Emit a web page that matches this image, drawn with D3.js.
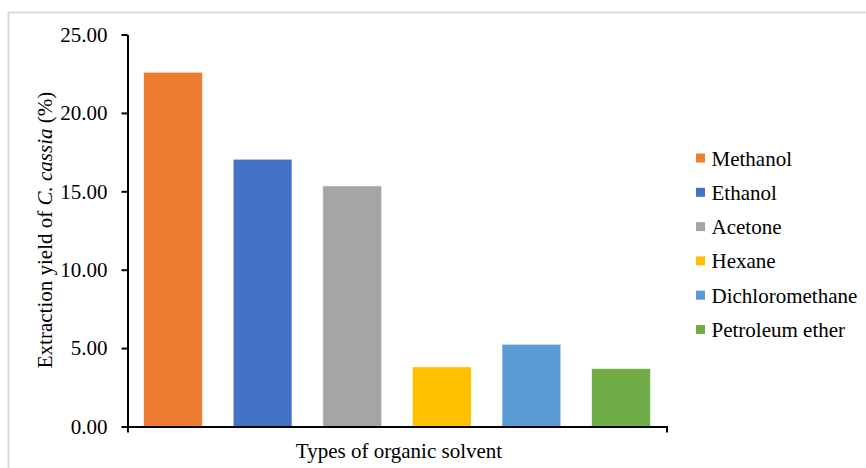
<!DOCTYPE html>
<html>
<head>
<meta charset="utf-8">
<script src="https://cdn.jsdelivr.net/npm/d3@7"></script>
<style>
  html, body { margin: 0; padding: 0; background: #fff; }
  svg { display: block; }
  svg text { font-family: 'Liberation Serif', 'Times New Roman', serif !important; }
</style>
</head>
<body>
<svg id="chart" width="866" height="468"></svg>
<script>
// Extraction yield by solvent
const solvents = ["Methanol", "Ethanol", "Acetone", "Hexane", "Dichloromethane", "Petroleum ether"];
const yields = [22.59, 17.04, 15.34, 3.80, 5.24, 3.69];
const colors = ["#ED7D31", "#4472C4", "#A5A5A5", "#FFC000", "#5B9BD5", "#70AD47"];
const yTicks = [0, 5, 10, 15, 20, 25];

const svg = d3.select("#chart");
const margin = { left: 127.5, right: 666.5, top: 34.5, bottom: 426.5 };
const fontSize = 21;
const serif = "'Liberation Serif', 'Times New Roman', serif";

// outer frame (top and left edges visible)
svg.append("path")
  .attr("d", "M866,12.5 H8.5 V468")
  .attr("fill", "none")
  .attr("stroke", "#d9d9d9")
  .attr("stroke-width", 2);

const x = d3.scaleBand()
  .domain(solvents)
  .range([margin.left, margin.right])
  .paddingInner(0.345)
  .paddingOuter(0.18);

const y = d3.scaleLinear()
  .domain([0, 25])
  .range([margin.bottom, margin.top]);

// bars
svg.append("g")
  .selectAll("rect")
  .data(solvents)
  .join("rect")
  .attr("x", d => x(d))
  .attr("width", x.bandwidth())
  .attr("y", (d, i) => y(yields[i]))
  .attr("height", (d, i) => y(0) - y(yields[i]))
  .attr("fill", (d, i) => colors[i])
  .attr("stroke", "#fff")
  .attr("stroke-opacity", 0.6)
  .attr("stroke-width", 0.75);

// y axis
const yAxis = svg.append("g")
  .attr("transform", `translate(${margin.left},0)`)
  .call(d3.axisLeft(y).tickValues(yTicks).tickFormat(d3.format(".2f")).tickSize(6).tickSizeOuter(0).tickPadding(14));
yAxis.attr("font-family", null).attr("font-size", null);
yAxis.select(".domain").attr("stroke", "#000").attr("stroke-width", 2);
yAxis.selectAll(".tick line").attr("stroke", "#000").attr("stroke-width", 2);
yAxis.selectAll(".tick text")
  .style("font-family", serif)
  .style("font-size", fontSize + "px")
  .attr("fill", "#000");

// x axis baseline with end ticks
const xAxis = svg.append("g")
  .attr("transform", `translate(0,${margin.bottom})`)
  .call(d3.axisBottom(x).tickValues([]).tickSizeOuter(6));
xAxis.select(".domain").attr("stroke", "#000").attr("stroke-width", 2);

// axis titles
svg.append("text")
  .attr("x", 399)
  .attr("y", 458)
  .attr("text-anchor", "middle")
  .style("font-family", serif)
  .style("font-size", fontSize + "px")
  .attr("fill", "#000")
  .text("Types of organic solvent");

const yTitle = svg.append("text")
  .attr("transform", "translate(52,230) rotate(-90)")
  .attr("text-anchor", "middle")
  .style("font-family", serif)
  .style("font-size", fontSize + "px")
  .attr("fill", "#000");
yTitle.append("tspan").text("Extraction yield of ");
yTitle.append("tspan").attr("font-style", "italic").text("C. cassia");
yTitle.append("tspan").text(" (%)");

// legend
const legend = svg.append("g").attr("transform", "translate(696,158)");
const rows = legend.selectAll("g")
  .data(solvents)
  .join("g")
  .attr("transform", (d, i) => `translate(0,${i * 34.3})`);
rows.append("rect")
  .attr("x", 0)
  .attr("y", -4.5)
  .attr("width", 9)
  .attr("height", 9)
  .attr("fill", (d, i) => colors[i]);
rows.append("text")
  .attr("x", 15.5)
  .attr("y", 7.5)
  .style("font-family", serif)
  .style("font-size", fontSize + "px")
  .attr("fill", "#000")
  .text(d => d);
</script>
</body>
</html>
